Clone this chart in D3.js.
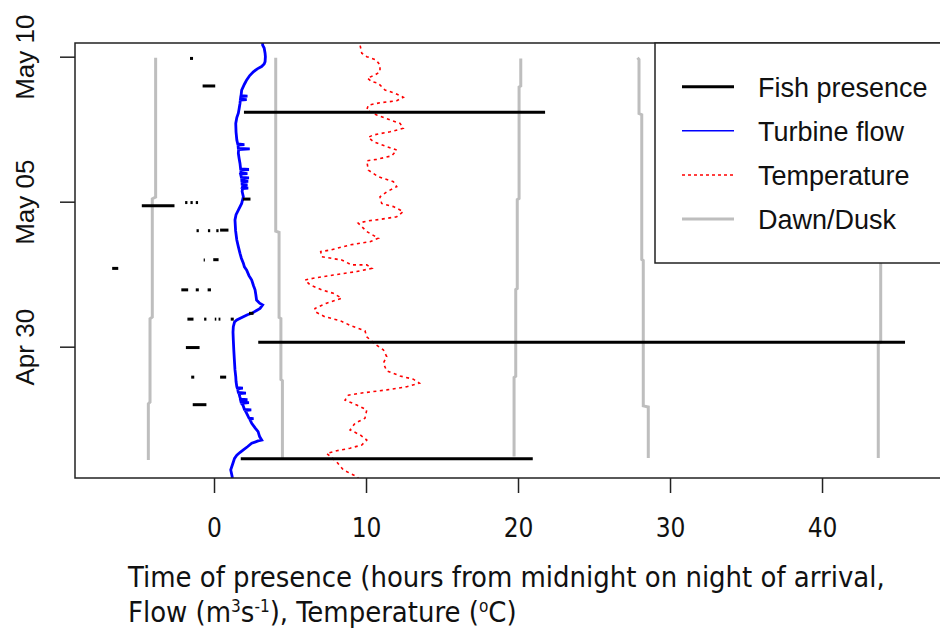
<!DOCTYPE html>
<html><head><meta charset="utf-8">
<script src="https://cdn.jsdelivr.net/npm/d3@7"></script>
<style>body{margin:0;background:#fff} svg{display:block}</style>
</head><body><svg id="chart" width="940" height="633"></svg>
<script>
// ---------- DATA (days are offsets from midnight Apr 30) ----------
const baseDate = "2013-04-30";
const yTickDays = [0, 5, 10];              // Apr 30, May 05, May 10
const xTicks = [0, 10, 20, 30, 40];

// Fish presence segments: [start hour, end hour, day]
const fishPresence = [
  [1.97, 21.78, 8.08], [2.91, 45.46, 0.15], [1.76, 20.97, -3.86],
  [-4.75, -2.6, 4.86], [-0.75, 0.08, 8.99], [-1.58, -1.38, 9.94],
  [1.9, 2.4, 5.09],
  [-1.9, -1.75, 4.97], [-1.55, -1.4, 4.97], [-1.2, -1.05, 4.97],
  [-1.15, -1.0, 4.0], [-0.4, -0.25, 4.0], [0.15, 0.3, 4.0], [0.4, 0.95, 4.02],
  [-0.68, -0.6, 2.99], [-0.05, 0.3, 3.0],
  [-6.7, -6.3, 2.7],
  [-2.15, -1.7, 1.96], [-1.2, -1.0, 1.96], [-0.42, -0.2, 1.96],
  [-1.75, -1.35, 0.95], [-0.65, -0.5, 0.95], [0.05, 0.15, 0.95], [0.3, 0.42, 0.95], [1.1, 1.3, 0.95],
  [2.3, 2.6, 1.15],
  [-1.85, -0.95, -0.03],
  [-1.5, -1.3, -1.05], [0.4, 0.8, -1.05],
  [-1.4, -0.5, -2.0]
];

// Turbine flow: [day, flow]
const turbineFlow = [
  [-4.62,1.2],[-4.49,1.2],[-4.25,1.1],[-4.01,1.25],[-3.85,1.35],[-3.74,1.5],[-3.65,1.7],[-3.56,1.93],
  [-3.45,2.2],[-3.33,2.48],[-3.25,2.9],[-3.22,3.14],[-3.1,3.0],[-2.93,2.9],[-2.8,2.7],[-2.64,2.48],
  [-2.50,2.35],[-2.48,2.6],[-2.46,2.3],[-2.30,2.15],[-2.20,2.05],[-2.18,2.45],[-2.16,2.0],[-2.01,1.9],
  [-1.95,1.8],[-1.93,2.3],[-1.91,1.78],[-1.85,1.75],[-1.83,2.2],[-1.81,1.75],[-1.73,1.7],[-1.62,1.65],
  [-1.60,2.1],[-1.58,1.6],[-1.45,1.55],[-1.43,1.9],[-1.41,1.52],[-1.38,1.5],[-1.2,1.45],[-1.03,1.43],
  [-0.8,1.38],[-0.46,1.34],[-0.1,1.3],[0.23,1.27],[0.5,1.25],[0.69,1.27],[0.85,1.35],[0.92,1.5],
  [1.03,1.93],[1.10,2.2],[1.15,2.48],[1.25,2.8],[1.32,3.03],[1.44,3.2],[1.5,3.0],[1.61,2.8],[1.8,2.75],
  [1.96,2.7],[2.1,2.6],[2.30,2.48],[2.45,2.3],[2.64,2.15],[2.75,2.0],[2.88,1.93],[3.05,1.8],[3.22,1.71],
  [3.45,1.6],[3.68,1.5],[4.0,1.42],[4.37,1.38],[4.55,1.45],[4.71,1.6],[4.94,1.82],[5.17,1.93],
  [5.35,1.85],[5.45,1.88],[5.47,2.25],[5.49,1.86],[5.55,1.9],[5.58,2.2],[5.60,1.85],[5.68,1.84],
  [5.70,2.25],[5.72,1.83],[5.80,1.82],[5.82,2.3],[5.84,1.8],[5.95,1.75],[5.97,2.2],[5.99,1.76],
  [6.09,1.78],[6.11,2.3],[6.13,1.75],[6.32,1.71],[6.5,1.65],[6.67,1.6],[6.80,1.62],[6.82,2.35],
  [6.84,1.6],[6.95,1.58],[6.97,2.0],[6.99,1.56],[7.13,1.5],[7.4,1.45],[7.70,1.43],[7.9,1.5],
  [8.05,1.6],[8.2,1.65],[8.39,1.71],[8.50,1.73],[8.52,2.15],[8.54,1.74],[8.62,1.76],[8.64,2.2],
  [8.66,1.78],[8.85,1.82],[9.05,2.0],[9.20,2.15],[9.35,2.35],[9.48,2.59],[9.58,2.85],[9.66,3.13],
  [9.75,3.3],[9.83,3.36],[10.0,3.38],[10.12,3.36],[10.3,3.3],[10.40,3.2],[10.6,3.2]
];

// Temperature: [day, degC]
const temperature = [
  [10.6,9.5],[10.40,9.61],[10.12,9.72],[10.0,10.05],[9.89,10.66],[9.71,10.92],[9.48,10.92],[9.37,10.59],
  [9.26,10.09],[9.14,10.38],[9.08,10.81],[8.85,11.25],[8.74,11.91],[8.60,12.45],[8.48,12.02],
  [8.41,10.92],[8.33,10.15],[8.16,10.05],[7.99,10.70],[7.82,11.58],[7.70,12.24],[7.53,12.45],
  [7.41,11.58],[7.30,10.48],[7.22,10.15],[7.07,10.48],[6.90,11.36],[6.78,12.02],[6.58,11.69],
  [6.46,10.70],[6.41,10.05],[6.09,10.15],[5.86,10.81],[5.69,11.80],[5.52,12.02],[5.34,11.36],
  [5.17,10.92],[4.94,11.03],[4.83,11.80],[4.66,12.45],[4.48,12.02],[4.39,10.92],[4.34,10.15],
  [4.26,9.49],[3.97,10.05],[3.74,10.81],[3.62,10.26],[3.51,8.95],[3.33,7.63],[3.28,7.02],[3.10,7.09],
  [2.99,8.40],[2.82,9.06],[2.82,10.05],[2.70,10.38],[2.59,9.39],[2.47,7.85],[2.36,6.53],[2.30,5.99],
  [2.13,6.32],[1.96,7.09],[1.84,7.85],[1.67,8.40],[1.50,7.41],[1.32,6.64],[1.21,6.64],[1.03,7.30],
  [0.90,8.29],[0.71,9.06],[0.55,9.93],[0.34,10.05],[0.09,10.59],[-0.11,11.14],[-0.34,11.36],
  [-0.57,11.14],[-0.83,11.36],[-1.01,12.24],[-1.12,13.11],[-1.26,13.51],[-1.38,12.68],[-1.49,11.36],
  [-1.59,9.82],[-1.67,8.84],[-1.84,8.62],[-2.01,9.39],[-2.18,10.05],[-2.47,9.93],[-2.64,9.28],
  [-2.87,8.95],[-3.04,9.61],[-3.22,10.05],[-3.39,9.72],[-3.50,8.95],[-3.59,8.07],[-3.68,7.41],
  [-3.97,8.07],[-4.25,8.51],[-4.48,9.39],[-4.67,9.74]
];

// Dawn / dusk times: each line is a list of [day, hour]
const dawnDusk = [
  [[-3.91,-4.32],[-1.97,-4.32],[-1.91,-4.21],[0.96,-4.21],[1.02,-4.06],[5.10,-4.06],[5.16,-3.84],[9.96,-3.84]],
  [[-3.91,4.5],[-1.17,4.5],[-1.13,4.4],[0.97,4.4],[1.01,4.28],[3.94,4.28],[3.98,4.06],[9.96,4.06]],
  [[-3.79,19.74],[-1.06,19.74],[-1.02,19.85],[1.97,19.85],[2.01,19.95],[5.07,19.95],[5.11,20.07],[8.95,20.07],[8.99,20.18],[9.94,20.18]],
  [[-3.84,28.57],[-2.08,28.57],[-2.04,28.24],[2.97,28.24],[3.01,28.14],[8.0,28.14],[8.04,27.96],[9.9,27.96],[9.96,27.86]],
  [[-3.84,43.7],[0.11,43.7],[0.15,43.86],[9.96,43.86]]
];

const legendLabels = ["Fish presence", "Turbine flow", "Temperature", "Dawn/Dusk"];
const xTitle1 = "Time of presence (hours from midnight on night of arrival,";

// ---------- SCALES ----------
const svg = d3.select("#chart");
const mLeft = 75, mTop = 43, mBottom = 478, mRight = 945;
const base = d3.utcParse("%Y-%m-%d")(baseDate);
const toDate = d => new Date(base.getTime() + d * 864e5);

const x = d3.scaleLinear().domain([-9.145, 48.09]).range([mLeft, mRight]);
const y = d3.scaleUtc().domain([toDate(-4.528), toDate(10.472)]).range([mBottom, mTop]);

svg.append("defs").append("clipPath").attr("id", "clip")
  .append("rect").attr("x", mLeft).attr("y", mTop).attr("width", mRight - mLeft).attr("height", mBottom - mTop);

const plot = svg.append("g").attr("clip-path", "url(#clip)");

const line = d3.line().x(d => x(d[1])).y(d => y(toDate(d[0])));
plot.selectAll(".dd").data(dawnDusk).join("path")
  .attr("d", line).attr("fill", "none").attr("stroke", "#bebebe").attr("stroke-width", 3);

plot.append("path").datum(temperature).attr("d", line)
  .attr("fill", "none").attr("stroke", "#ff0000").attr("stroke-width", 1.6)
  .attr("stroke-dasharray", "3,3.5");

plot.append("path").datum(turbineFlow).attr("d", line)
  .attr("fill", "none").attr("stroke", "#0000ff").attr("stroke-width", 2.8)
  .attr("stroke-linejoin", "miter").attr("stroke-miterlimit", 2);

plot.selectAll(".fish").data(fishPresence).join("line")
  .attr("x1", d => x(d[0])).attr("x2", d => x(d[1]))
  .attr("y1", d => y(toDate(d[2]))).attr("y2", d => y(toDate(d[2])))
  .attr("stroke", "#000").attr("stroke-width", 3);

svg.append("rect").attr("x", mLeft).attr("y", mTop).attr("width", mRight - mLeft).attr("height", mBottom - mTop)
  .attr("fill", "none").attr("stroke", "#222").attr("stroke-width", 1.5);

// axes
const xAxis = d3.axisBottom(x).tickValues(xTicks).tickSize(15).tickPadding(26).tickFormat(d3.format("d"));
const gx = svg.append("g").attr("transform", `translate(0,${mBottom})`).call(xAxis);
gx.select(".domain").remove();
gx.selectAll(".tick line").attr("stroke", "#222").attr("stroke-width", 1.5);
gx.selectAll(".tick text").attr("font-family", "'DejaVu Sans Condensed','DejaVu Sans',sans-serif")
  .style("font-stretch", "condensed").attr("font-size", 26).attr("fill", "#111");

const yAxis = d3.axisLeft(y).tickValues(yTickDays.map(toDate)).tickSize(15).tickFormat(d3.utcFormat("%b %d"));
const gy = svg.append("g").attr("transform", `translate(${mLeft},0)`).call(yAxis);
gy.select(".domain").remove();
gy.selectAll(".tick line").attr("stroke", "#222").attr("stroke-width", 1.5);
gy.selectAll(".tick text")
  .attr("font-family", "'Liberation Sans',Arial,sans-serif").attr("font-size", 26).attr("fill", "#111")
  .attr("text-anchor", "middle").attr("dy", null).attr("x", null)
  .attr("transform", "translate(-41,0) rotate(-90)");

// x title
const tFont = "'DejaVu Sans Condensed','DejaVu Sans',sans-serif";
const t1 = svg.append("text").attr("x", 128).attr("y", 587).attr("font-family", tFont)
  .style("font-stretch", "condensed").attr("font-size", 26).attr("fill", "#111").text(xTitle1);
const t2 = svg.append("text").attr("x", 128).attr("y", 622).attr("font-family", tFont)
  .style("font-stretch", "condensed").attr("font-size", 26).attr("fill", "#111");
t2.append("tspan").text("Flow (m");
t2.append("tspan").attr("dy", -10).attr("font-size", 17).text("3");
t2.append("tspan").attr("dy", 10).text("s");
t2.append("tspan").attr("dy", -10).attr("font-size", 17).text("-1");
t2.append("tspan").attr("dy", 10).text("), Temperature (");
t2.append("tspan").attr("dy", -10).attr("font-size", 17).text("o");
t2.append("tspan").attr("dy", 10).text("C)");
const w1 = t1.node().getComputedTextLength();
const fs = 26 * 757 / w1;
t1.attr("font-size", fs);
t2.attr("font-size", fs);

// legend
const lg = svg.append("g");
lg.append("rect").attr("x", 655).attr("y", mTop).attr("width", mRight - 655).attr("height", 263 - mTop)
  .attr("fill", "#fff").attr("stroke", "#222").attr("stroke-width", 1.5);
const legendStyles = [
  {c: "#000", w: 3, dash: null},
  {c: "#0000ff", w: 1.5, dash: null},
  {c: "#ff0000", w: 1.5, dash: "3,3"},
  {c: "#bebebe", w: 3, dash: null}
];
const rowY = [86.7, 130.7, 175, 219];
legendLabels.forEach((lab, i) => {
  lg.append("line").attr("x1", 682).attr("x2", 734).attr("y1", rowY[i]).attr("y2", rowY[i])
    .attr("stroke", legendStyles[i].c).attr("stroke-width", legendStyles[i].w)
    .attr("stroke-dasharray", legendStyles[i].dash);
  lg.append("text").attr("x", 758).attr("y", rowY[i] + 10)
    .attr("font-family", "'Liberation Sans',Arial,sans-serif").attr("font-size", 27).attr("fill", "#111").text(lab);
});
</script>
</body></html>
